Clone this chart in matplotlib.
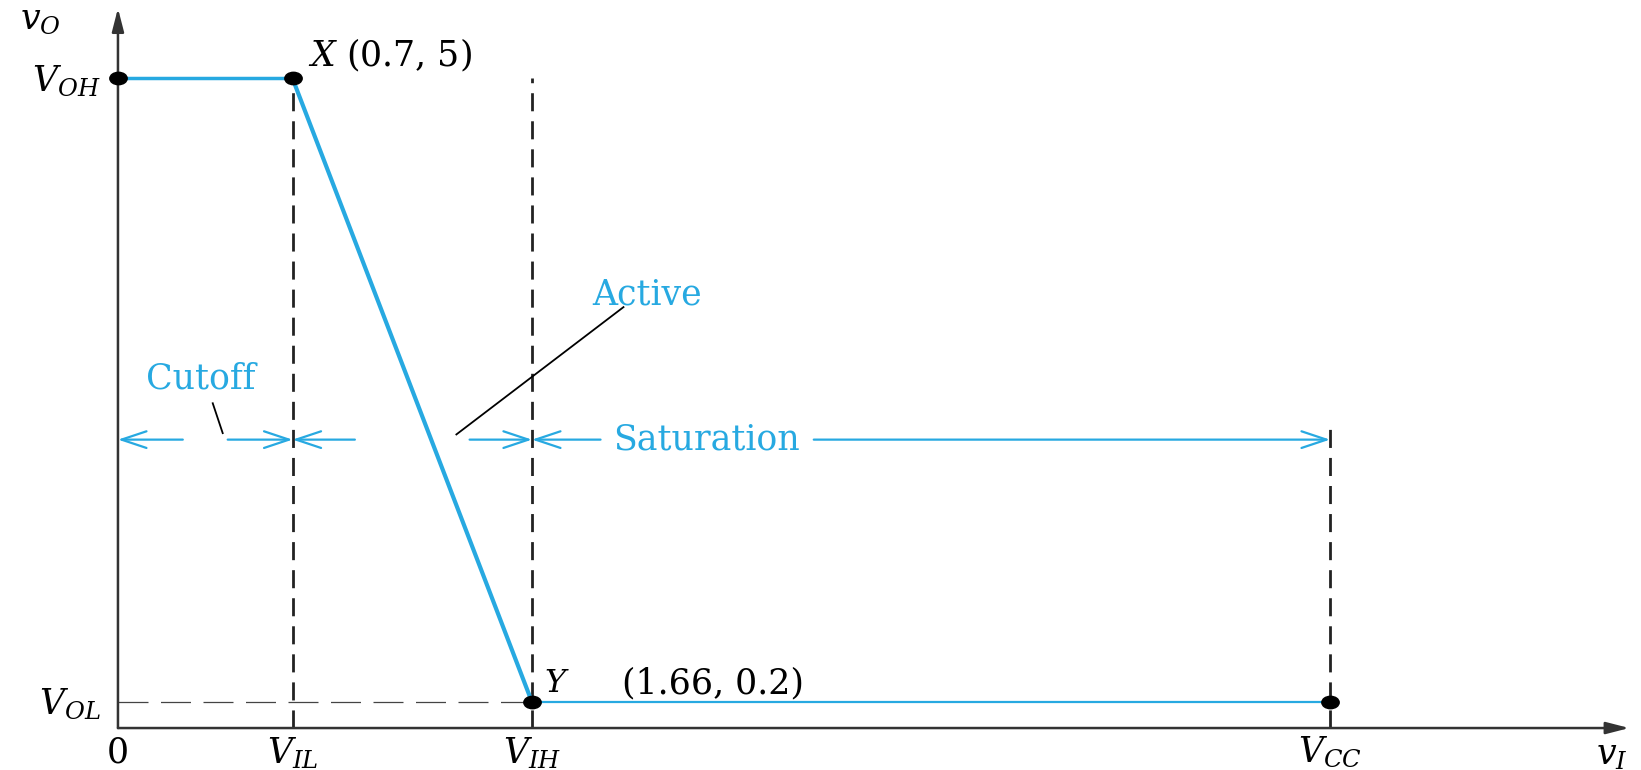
import matplotlib
matplotlib.use("Agg")
import matplotlib.pyplot as plt
from matplotlib.path import Path
from matplotlib.transforms import Affine2D

# transfer characteristic of the BJT inverter (schematic, v_I vs v_O)
v_in = [0.0, 0.7, 1.66, 4.86]   # 0, V_IL, V_IH, V_CC
v_out = [5.0, 5.0, 0.2, 0.2]    # V_OH, V_OH, V_OL, V_OL
V_IL, V_IH, V_CC = v_in[1], v_in[2], v_in[3]
V_OH, V_OL = v_out[0], v_out[2]

xtick_pos = [0.0, V_IL, V_IH, V_CC]
xtick_lab = ["0", r"$V_{IL}$", r"$V_{IH}$", r"$V_{CC}$"]
ytick_pos = [V_OH, V_OL]
ytick_lab = [r"$V_{OH}$", r"$V_{OL}$"]

BLUE = "#27a9e1"
AXC = "#333333"

plt.rcParams["font.family"] = "DejaVu Serif"
plt.rcParams["mathtext.fontset"] = "dejavuserif"

fig = plt.figure(figsize=(16.41, 7.70), dpi=100)
ax = fig.add_axes([0, 0, 1, 1])
ax.set_xlim(-0.473, 6.107)
ax.set_ylim(-0.323, 5.604)
ax.axis("off")

# axes with arrow heads
head = dict(arrowstyle="-|>,head_length=1.4,head_width=0.36",
            color=AXC, lw=1.8, shrinkA=0, shrinkB=0)
ax.annotate("", xy=(6.06, 0), xytext=(0, 0), arrowprops=head)
ax.annotate("", xy=(0, 5.54), xytext=(0, 0), arrowprops=head)

# guide lines
dash = dict(color="#222222", lw=2.0, dashes=(6.5, 3.6))
ax.plot([V_IL, V_IL], [0, V_OH], **dash)
ax.plot([V_IH, V_IH], [0, V_OH], **dash)
ax.plot([V_CC, V_CC], [0, 2.30], **dash)
ax.plot([0, V_IH], [V_OL, V_OL], color="#444444", lw=0.9, dashes=(24, 10))

# the characteristic
ax.plot(v_in[:2], v_out[:2], color=BLUE, lw=2.5, solid_capstyle="butt")
ax.plot(v_in[1:3], v_out[1:3], color=BLUE, lw=3.0)
ax.plot(v_in[2:], v_out[2:], color=BLUE, lw=1.6)

# slightly flattened dots
dot = Path.unit_circle().transformed(Affine2D().scale(1.4, 1.0))
ax.plot(v_in, v_out, linestyle="none", marker=dot, color="black", ms=12.5, zorder=5)

# region arrows
arr_y = 2.22
arr = dict(arrowstyle="->,head_length=0.9,head_width=0.3", color=BLUE, lw=1.6,
           shrinkA=0, shrinkB=0, mutation_scale=20)
for x0, x1 in [(0.26, 0.0), (0.44, V_IL), (0.95, V_IL), (1.41, V_IH),
               (1.935, V_IH), (2.79, V_CC)]:
    ax.annotate("", xy=(x1, arr_y), xytext=(x0, arr_y), arrowprops=arr)

fs = 25
ax.text(2.36, arr_y, "Saturation", color=BLUE, fontsize=fs, ha="center", va="center")
ax.text(0.33, 2.69, "Cutoff", color=BLUE, fontsize=fs, ha="center", va="center")
ax.text(2.12, 3.34, "Active", color=BLUE, fontsize=fs, ha="center", va="center")

# leader lines
ax.plot([0.38, 0.42], [2.50, 2.27], color="black", lw=1.3)
ax.plot([1.357, 2.027], [2.26, 3.24], color="black", lw=1.3)

# point labels
ax.text(0.76, 5.18, r"$X$ (0.7, 5)", fontsize=fs, ha="left", va="center")
ax.text(1.76, 0.34, r"$Y$", fontsize=fs - 2, ha="center", va="center")
ax.text(2.02, 0.34, "(1.66, 0.2)", fontsize=fs, ha="left", va="center")

# tick labels
for x, lab in zip(xtick_pos, xtick_lab):
    ax.text(x, -0.19, lab, fontsize=fs, ha="center", va="center")
for y, lab in zip(ytick_pos, ytick_lab):
    ax.text(-0.07, y - 0.02, lab, fontsize=fs, ha="right", va="center")
ax.text(-0.31, 5.46, r"$v_O$", fontsize=fs, ha="center", va="center")
ax.text(5.99, -0.21, r"$v_I$", fontsize=fs, ha="center", va="center")

fig.savefig("out.png", dpi=100)
